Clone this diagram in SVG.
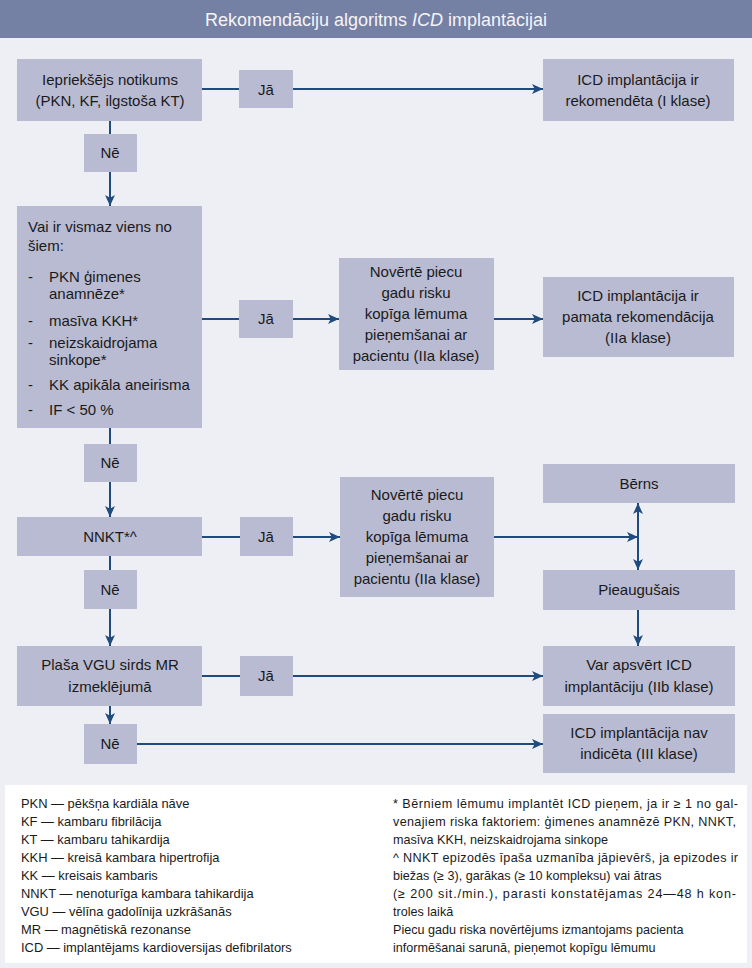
<svg xmlns="http://www.w3.org/2000/svg" width="752" height="968" viewBox="0 0 752 968">
<defs>
<marker id="ah" viewBox="0 0 10 10" refX="10" refY="5" markerWidth="11" markerHeight="11" markerUnits="userSpaceOnUse" orient="auto-start-reverse">
<path d="M0,0.5 L10,5 L0,9.5 L2.5,5 Z" fill="#1f4b7e"/>
</marker>
<style>
.bx{fill:#b9bbd3}
.t{font-family:"Liberation Sans",Arial,sans-serif;font-size:15px;fill:#1a1a1a}
.c{text-anchor:middle}
.lg{font-family:"Liberation Sans",Arial,sans-serif;font-size:12.9px;fill:#1a1a1a}
.lr{font-family:"Liberation Sans",Arial,sans-serif;font-size:12.6px;fill:#1a1a1a}
.ln{stroke:#1f4b7e;stroke-width:2;fill:none}
.ar{marker-end:url(#ah)}
</style>
</defs>
<rect x="0" y="0" width="752" height="968" fill="#eeeff5"/>
<g id="title">
<rect x="0" y="0" width="752" height="38" fill="#7580a5"/>
<text x="376" y="26" text-anchor="middle" font-family="Liberation Sans, Arial, sans-serif" font-size="18" fill="#f4f4f8">Rekomendāciju algoritms <tspan font-style="italic">ICD</tspan> implantācijai</text>
</g>
<g id="connectors">
<path class="ln" d="M202,89 H239"/>
<path class="ln ar" d="M293,89 H543"/>
<path class="ln" d="M110,121 V134"/>
<path class="ln ar" d="M110,172 V206"/>
<path class="ln" d="M202,319 H239"/>
<path class="ln ar" d="M293,319 H339"/>
<path class="ln ar" d="M494,319 H543"/>
<path class="ln" d="M110,428 V444"/>
<path class="ln ar" d="M110,482 V517"/>
<path class="ln" d="M202,537 H240"/>
<path class="ln ar" d="M293,537 H340"/>
<path class="ln ar" d="M494,537 H638"/>
<path class="ln" d="M638,503 V570" marker-start="url(#ah)" marker-end="url(#ah)"/>
<path class="ln" d="M110,556 V570"/>
<path class="ln ar" d="M110,609 V646"/>
<path class="ln" d="M202,676 H240"/>
<path class="ln ar" d="M293,676 H543"/>
<path class="ln ar" d="M638,610 V646"/>
<path class="ln ar" d="M110,706 V724"/>
<path class="ln ar" d="M137,744 H543"/>
</g>
<g id="n-iepr">
<rect class="bx" x="17" y="59" width="185" height="62"/>
<text class="t c" x="110" y="85">Iepriekšējs notikums</text>
<text class="t c" x="110" y="106">(PKN, KF, ilgstoša KT)</text>
</g>
<g id="n-ja1">
<rect class="bx" x="239" y="70" width="54" height="38"/>
<text class="t c" x="266" y="95">Jā</text>
</g>
<g id="n-icd1">
<rect class="bx" x="543" y="59" width="191" height="62"/>
<text class="t c" x="638" y="85">ICD implantācija ir</text>
<text class="t c" x="638" y="106">rekomendēta (I klase)</text>
</g>
<g id="n-ne1">
<rect class="bx" x="84" y="134" width="53" height="38"/>
<text class="t c" x="110" y="158">Nē</text>
</g>
<g id="n-vai">
<rect class="bx" x="17" y="206" width="185" height="222"/>
<text class="t" x="28" y="232">Vai ir vismaz viens no</text>
<text class="t" x="28" y="251">šiem:</text>
<text class="t" x="28" y="282" font-size="9">-</text>
<text class="t" x="49" y="282">PKN ģimenes</text>
<text class="t" x="49" y="299">anamnēze*</text>
<text class="t" x="28" y="326" font-size="9">-</text>
<text class="t" x="49" y="326">masīva KKH*</text>
<text class="t" x="28" y="348" font-size="9">-</text>
<text class="t" x="49" y="348">neizskaidrojama</text>
<text class="t" x="49" y="365">sinkope*</text>
<text class="t" x="28" y="390" font-size="9">-</text>
<text class="t" x="49" y="390">KK apikāla aneirisma</text>
<text class="t" x="28" y="415" font-size="9">-</text>
<text class="t" x="49" y="415">IF &lt; 50 %</text>
</g>
<g id="n-ja2">
<rect class="bx" x="239" y="300" width="54" height="38"/>
<text class="t c" x="266" y="324">Jā</text>
</g>
<g id="n-nov1">
<rect class="bx" x="339" y="258" width="155" height="112"/>
<text class="t c" x="416" y="277">Novērtē piecu</text>
<text class="t c" x="416" y="298">gadu risku</text>
<text class="t c" x="416" y="319">kopīga lēmuma</text>
<text class="t c" x="416" y="340">pieņemšanai ar</text>
<text class="t c" x="416" y="361">pacientu (IIa klase)</text>
</g>
<g id="n-icd2a">
<rect class="bx" x="543" y="277" width="191" height="80"/>
<text class="t c" x="638" y="301">ICD implantācija ir</text>
<text class="t c" x="638" y="322">pamata rekomendācija</text>
<text class="t c" x="638" y="343">(IIa klase)</text>
</g>
<g id="n-ne2">
<rect class="bx" x="84" y="444" width="53" height="38"/>
<text class="t c" x="110" y="468">Nē</text>
</g>
<g id="n-nnkt">
<rect class="bx" x="17" y="517" width="185" height="39"/>
<text class="t c" x="110" y="542">NNKT*^</text>
</g>
<g id="n-ja3">
<rect class="bx" x="240" y="517" width="53" height="39"/>
<text class="t c" x="266" y="542">Jā</text>
</g>
<g id="n-nov2">
<rect class="bx" x="340" y="477" width="154" height="120"/>
<text class="t c" x="417" y="500">Novērtē piecu</text>
<text class="t c" x="417" y="521">gadu risku</text>
<text class="t c" x="417" y="542">kopīga lēmuma</text>
<text class="t c" x="417" y="563">pieņemšanai ar</text>
<text class="t c" x="417" y="584">pacientu (IIa klase)</text>
</g>
<g id="n-berns">
<rect class="bx" x="543" y="464" width="192" height="39"/>
<text class="t c" x="639" y="489">Bērns</text>
</g>
<g id="n-pieaug">
<rect class="bx" x="543" y="570" width="192" height="40"/>
<text class="t c" x="639" y="595">Pieaugušais</text>
</g>
<g id="n-ne3">
<rect class="bx" x="84" y="570" width="53" height="39"/>
<text class="t c" x="110" y="595">Nē</text>
</g>
<g id="n-plasa">
<rect class="bx" x="17" y="646" width="185" height="60"/>
<text class="t c" x="110" y="670">Plaša VGU sirds MR</text>
<text class="t c" x="110" y="692">izmeklējumā</text>
</g>
<g id="n-ja4">
<rect class="bx" x="240" y="656" width="53" height="40"/>
<text class="t c" x="266" y="681">Jā</text>
</g>
<g id="n-var">
<rect class="bx" x="543" y="646" width="192" height="60"/>
<text class="t c" x="639" y="670">Var apsvērt ICD</text>
<text class="t c" x="639" y="692">implantāciju (IIb klase)</text>
</g>
<g id="n-ne4">
<rect class="bx" x="84" y="724" width="53" height="40"/>
<text class="t c" x="110" y="749">Nē</text>
</g>
<g id="n-icd3">
<rect class="bx" x="543" y="714" width="192" height="59"/>
<text class="t c" x="639" y="738">ICD implantācija nav</text>
<text class="t c" x="639" y="759">indicēta (III klase)</text>
</g>
<g id="legend">
<rect x="5" y="785" width="742" height="178" fill="#ffffff"/>
<text class="lg" x="21" y="807.5">PKN — pēkšņa kardiāla nāve</text>
<text class="lg" x="21" y="825.5">KF — kambaru fibrilācija</text>
<text class="lg" x="21" y="843.5">KT — kambaru tahikardija</text>
<text class="lg" x="21" y="861.5">KKH — kreisā kambara hipertrofija</text>
<text class="lg" x="21" y="879.5">KK — kreisais kambaris</text>
<text class="lg" x="21" y="897.5">NNKT — nenoturīga kambara tahikardija</text>
<text class="lg" x="21" y="915.5">VGU — vēlīna gadolīnija uzkrāšanās</text>
<text class="lg" x="21" y="933.5">MR — magnētiskā rezonanse</text>
<text class="lg" x="21" y="951.5">ICD — implantējams kardioversijas defibrilators</text>
<text class="lr" x="393" y="807.5" textLength="345">* Bērniem lēmumu implantēt ICD pieņem, ja ir ≥ 1 no gal-</text>
<text class="lr" x="393" y="825.5" textLength="343">venajiem riska faktoriem: ģimenes anamnēzē PKN, NNKT,</text>
<text class="lr" x="393" y="843.5">masīva KKH, neizskaidrojama sinkope</text>
<text class="lr" x="393" y="861.5" textLength="345">^ NNKT epizodēs īpaša uzmanība jāpievērš, ja epizodes ir</text>
<text class="lr" x="393" y="879.5">biežas (≥ 3), garākas (≥ 10 kompleksu) vai ātras</text>
<text class="lr" x="393" y="897.5" textLength="343">(≥ 200 sit./min.), parasti konstatējamas 24—48 h kon-</text>
<text class="lr" x="393" y="915.5">troles laikā</text>
<text class="lr" x="393" y="933.5">Piecu gadu riska novērtējums izmantojams pacienta</text>
<text class="lr" x="393" y="951.5">informēšanai sarunā, pieņemot kopīgu lēmumu</text>
</g>
</svg>
